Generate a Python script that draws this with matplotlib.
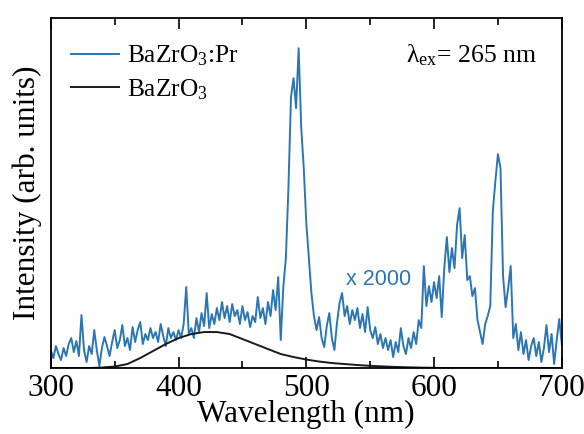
import numpy as np
import matplotlib
matplotlib.use("Agg")
import matplotlib.pyplot as plt
from matplotlib.ticker import MultipleLocator

plt.rcParams['font.family'] = ['Liberation Serif', 'DejaVu Serif']
plt.rcParams['mathtext.fontset'] = 'custom'
plt.rcParams['mathtext.rm'] = 'Liberation Serif'
plt.rcParams['mathtext.it'] = 'Liberation Serif:italic'

# BaZrO3:Pr emission (x 2000), 2 nm steps from 300 to 700 nm
wl_pr = np.arange(300, 701, 2)
int_pr = [
    18, 10, 22, 14, 8, 20, 12, 24, 30, 16,
    27, 12, 53, 18, 6, 22, 14, 38, 18, 2,
    20, 31, 22, 12, 26, 38, 20, 28, 43, 22,
    30, 18, 41, 26, 38, 46, 24, 34, 28, 40,
    30, 36, 26, 44, 32, 22, 40, 30, 36, 28,
    38, 30, 44, 81, 34, 40, 30, 50, 36, 55,
    42, 75, 40, 54, 44, 60, 48, 66, 50, 62,
    46, 64, 52, 58, 44, 62, 48, 56, 41, 52,
    46, 71, 50, 60, 44, 66, 52, 78, 58, 91,
    28, 81, 110, 180, 271, 290, 260, 320, 241, 200,
    145, 110, 75, 52, 38, 51, 30, 21, 42, 55,
    30, 18, 45, 65, 75, 52, 62, 44, 58, 48,
    60, 40, 54, 36, 61, 38, 30, 41, 24, 34,
    20, 30, 18, 28, 11, 26, 16, 40, 22, 14,
    30, 20, 36, 24, 48, 40, 102, 62, 82, 66,
    86, 70, 92, 51, 100, 131, 96, 120, 100, 143,
    160, 110, 133, 88, 92, 72, 80, 48, 36, 24,
    44, 52, 62, 157, 187, 214, 200, 92, 61, 80,
    102, 30, 44, 18, 36, 14, 28, 8, 22, 30,
    12, 26, 6, 20, 43, 16, 34, 4, 28, 49,
    24,
]

# undoped BaZrO3 emission, 10 nm steps
wl_bzo = np.arange(300, 701, 10)
int_bzo = [
    0, 0, 0, 0, 0.5, 1.5, 4, 10, 17, 24,
    30, 34, 36, 36, 34, 29, 24, 19, 14, 11,
    8.5, 6.5, 5, 4, 3, 2.2, 1.6, 1.1, 0.7, 0.4,
    0.2, 0, 0, 0, 0, 0, 0, 0, 0, 0,
    0,
]

blue = '#2b76b3'

fig = plt.figure(figsize=(5.84, 4.34), dpi=100)
ax = fig.add_axes([0.087, 0.152, 0.875, 0.806])

ax.plot(wl_pr, int_pr, color=blue, lw=1.4, label='BaZrO$_3$:Pr')
ax.plot(wl_bzo, int_bzo, color='#1a1a1a', lw=1.4, label='BaZrO$_3$')

ax.set_xlim(300, 700)
ax.set_ylim(0, 350)
ax.xaxis.set_major_locator(MultipleLocator(100))
ax.xaxis.set_minor_locator(MultipleLocator(50))
ax.tick_params(axis='x', which='both', direction='in', top=True, labelsize=22.5, pad=4)
ax.tick_params(axis='x', which='major', length=8, width=1.2)
ax.tick_params(axis='x', which='minor', length=5, width=1.2)
ax.set_yticks([])
for s in ax.spines.values():
    s.set_linewidth(1.3)

ax.set_xlabel('Wavelength (nm)', fontsize=22.5, labelpad=-2)
ax.set_ylabel('Intensity (arb. units)', fontsize=22.5, labelpad=6)

ax.legend(loc='upper left', fontsize=18.3, frameon=False, handlelength=1.9,
          handletextpad=0.3, labelspacing=0.35, borderaxespad=0.4,
          bbox_to_anchor=(0.0, 0.985))

ax.text(0.695, 0.895, 'λ$_{\\rm ex}$= 265 nm', transform=ax.transAxes,
        fontsize=18.5, ha='left', va='center')
ax.text(0.577, 0.253, 'x 2000', transform=ax.transAxes, color=blue,
        fontsize=15.5, family='Liberation Sans', ha='left', va='center')

fig.savefig('out.png', dpi=100)
